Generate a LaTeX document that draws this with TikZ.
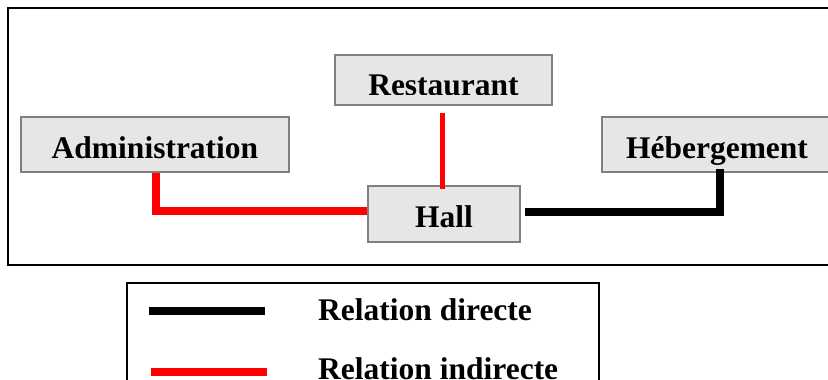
\documentclass[tikz,border=0pt]{standalone}
\usepackage{fontspec}
\setmainfont{Liberation Serif}
\definecolor{boxfill}{HTML}{E6E6E6}
\definecolor{boxdraw}{HTML}{7F7F7F}
\definecolor{relred}{HTML}{FF0000}
\begin{document}
\begin{tikzpicture}[x=1pt,y=-1pt,
  every node/.style={font=\bfseries\fontsize{31.5}{36}\selectfont},
  unit/.style={draw=boxdraw,fill=boxfill,line width=2pt,inner sep=0pt,
    text height=27pt,text depth=0pt,anchor=center},
  direct/.style={line width=7.5pt,black,line join=miter},
  indirect/.style={line width=7.5pt,relred,line join=miter},
  frame/.style={draw=black,line width=2.5pt}]
\useasboundingbox (0,0) rectangle (828,380);
% outer frame
\draw[frame] (8,8) rectangle (845,265);
% units
\node[unit,minimum width=268pt,minimum height=55pt] (adm) at (155,144.5) {Administration};
\node[unit,minimum width=230pt,minimum height=55pt] (heb) at (717,144.5) {Hébergement};
\node[unit,minimum width=151.5pt,minimum height=56pt] (hall) at (444,214) {Hall};
\node[unit,minimum width=217pt,minimum height=50pt] (rest) at (443.5,80) {};
\begin{scope}
  \clip (rest.north west) rectangle ([yshift=12pt]rest.south east);
  \node[inner sep=0pt,text height=31pt,text depth=0pt] (restlabel) at (rest.center) {Restaurant};
\end{scope}
% relations
\draw[indirect,line width=5pt] ([yshift=-7pt,xshift=-1.5pt]rest.south) -- ([yshift=-4pt,xshift=-1.5pt]rest.south |- hall.north);
\draw[indirect] ([xshift=1pt]adm.south) |- ([yshift=3pt]hall.west);
\draw[direct] ([xshift=4pt,yshift=2pt]hall.east) -| ([xshift=3pt,yshift=4pt]heb.south);
% legend
\draw[frame,line width=2pt] (127,283) rectangle (599,420);
\coordinate (la1) at (149,311);
\coordinate (lb1) at (265,311);
\coordinate (la2) at (151,372);
\coordinate (lb2) at (267,372);
\draw[direct,line width=8pt] (la1) -- (lb1);
\draw[indirect,line width=8pt] (la2) -- (lb2);
\node[anchor=base west,inner sep=0pt] (t1) at (318,320) {Relation directe};
\node[anchor=base west,inner sep=0pt] (t2) at (318,379) {Relation indirecte};
\end{tikzpicture}
\end{document}
